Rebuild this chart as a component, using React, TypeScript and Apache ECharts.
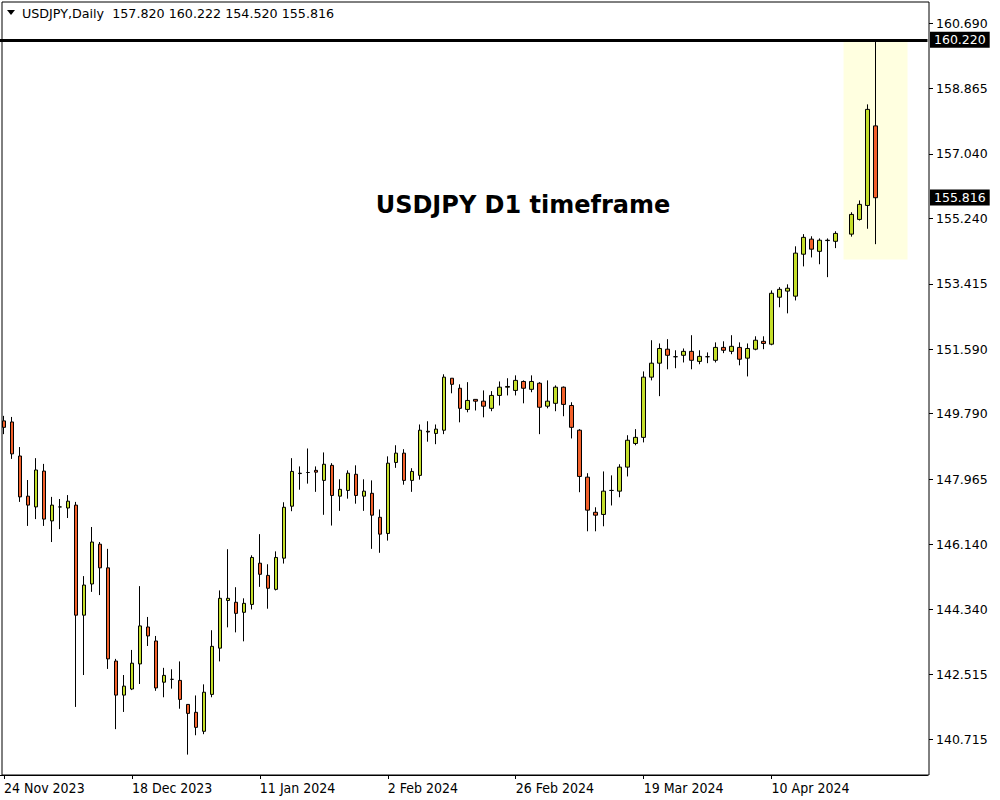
import React, { useEffect, useRef } from 'react';
import * as echarts from 'echarts';

// Trading days (categories); the last six are empty future slots on the chart
const dates = [
  '24 Nov 2023', '27 Nov 2023', '28 Nov 2023', '29 Nov 2023', '30 Nov 2023', '1 Dec 2023',
  '4 Dec 2023', '5 Dec 2023', '6 Dec 2023', '7 Dec 2023', '8 Dec 2023',
  '11 Dec 2023', '12 Dec 2023', '13 Dec 2023', '14 Dec 2023', '15 Dec 2023',
  '18 Dec 2023', '19 Dec 2023', '20 Dec 2023', '21 Dec 2023', '22 Dec 2023',
  '26 Dec 2023', '27 Dec 2023', '28 Dec 2023', '29 Dec 2023',
  '2 Jan 2024', '3 Jan 2024', '4 Jan 2024', '5 Jan 2024',
  '8 Jan 2024', '9 Jan 2024', '10 Jan 2024', '11 Jan 2024', '12 Jan 2024',
  '15 Jan 2024', '16 Jan 2024', '17 Jan 2024', '18 Jan 2024', '19 Jan 2024',
  '22 Jan 2024', '23 Jan 2024', '24 Jan 2024', '25 Jan 2024', '26 Jan 2024',
  '29 Jan 2024', '30 Jan 2024', '31 Jan 2024', '1 Feb 2024', '2 Feb 2024',
  '5 Feb 2024', '6 Feb 2024', '7 Feb 2024', '8 Feb 2024', '9 Feb 2024',
  '12 Feb 2024', '13 Feb 2024', '14 Feb 2024', '15 Feb 2024', '16 Feb 2024',
  '19 Feb 2024', '20 Feb 2024', '21 Feb 2024', '22 Feb 2024', '23 Feb 2024',
  '26 Feb 2024', '27 Feb 2024', '28 Feb 2024', '29 Feb 2024', '1 Mar 2024',
  '4 Mar 2024', '5 Mar 2024', '6 Mar 2024', '7 Mar 2024', '8 Mar 2024',
  '11 Mar 2024', '12 Mar 2024', '13 Mar 2024', '14 Mar 2024', '15 Mar 2024',
  '18 Mar 2024', '19 Mar 2024', '20 Mar 2024', '21 Mar 2024', '22 Mar 2024',
  '25 Mar 2024', '26 Mar 2024', '27 Mar 2024', '28 Mar 2024', '29 Mar 2024',
  '1 Apr 2024', '2 Apr 2024', '3 Apr 2024', '4 Apr 2024', '5 Apr 2024',
  '8 Apr 2024', '9 Apr 2024', '10 Apr 2024', '11 Apr 2024', '12 Apr 2024',
  '15 Apr 2024', '16 Apr 2024', '17 Apr 2024', '18 Apr 2024', '19 Apr 2024',
  '22 Apr 2024', '23 Apr 2024', '24 Apr 2024', '25 Apr 2024', '26 Apr 2024',
  '29 Apr 2024',
  '30 Apr 2024', '1 May 2024', '2 May 2024', '3 May 2024', '6 May 2024', '7 May 2024',
];

const DATA_COUNT = 110; // categories holding candles (null = no bar drawn)

const opens = [
  149.59, 149.56, 148.61, 147.49, 147.19, 148.19, 146.80, 147.19, 147.16, 147.24,
  144.17, 145.04, 146.15, 145.49, 142.89, 141.94, 142.11, 142.81, 143.84, 143.45,
  142.30, 142.38, 142.35, 141.68, 141.46, 140.93, 141.96, 143.25, 144.58, 144.53,
  144.25, 144.47, 145.62, 145.28, 144.89, 145.76, 147.21, 148.12, 148.15, 148.21,
  147.93, 148.35, 147.49, 147.65, 148.10, 147.49, 147.57, 146.90, 146.45, 148.43,
  148.69, 147.93, 148.07, 149.30, 149.24, 149.33, 150.78, 150.50, 149.91, 150.19,
  150.14, 149.94, 150.30, 150.53, 150.44, 150.69, 150.47, 150.64, 150.00, 150.08,
  150.53, 150.02, 149.33, 148.02, 147.04, 146.98, 147.65, 147.63, 148.30, 148.96,
  149.13, 150.81, 151.20, 151.59, 151.38, 151.42, 151.53, 151.25, 151.38, 151.28,
  151.64, 151.53, 151.64, 151.34, 151.59, 151.81, 151.73, 153.04, 153.21, 153.07,
  154.24, 154.66, 154.32, 154.62, 154.60, null, 154.80, 155.21, 155.60, 157.820,
];
const highs = [
  149.73, 149.70, 148.86, 147.94, 148.55, 148.39, 147.47, 147.41, 147.52, 147.33,
  145.26, 146.63, 146.21, 146.02, 142.95, 142.50, 143.20, 144.98, 144.12, 143.59,
  142.70, 142.66, 142.88, 141.68, 141.93, 142.24, 143.75, 144.86, 146.01, 144.95,
  144.64, 145.84, 146.43, 145.59, 145.95, 147.32, 148.55, 148.32, 148.82, 148.32,
  148.71, 148.41, 147.96, 148.21, 148.35, 147.96, 147.93, 147.12, 148.60, 148.91,
  148.80, 148.27, 149.49, 149.58, 149.49, 150.89, 150.78, 150.61, 150.67, 150.19,
  150.44, 150.42, 150.69, 150.78, 150.86, 150.72, 150.86, 150.67, 150.72, 150.58,
  150.55, 150.11, 149.36, 148.13, 147.18, 148.18, 148.07, 148.38, 149.19, 149.36,
  150.97, 151.84, 151.75, 151.87, 151.56, 151.61, 151.98, 151.56, 151.50, 151.78,
  151.81, 151.98, 151.78, 151.75, 151.95, 151.95, 153.23, 153.32, 153.40, 154.46,
  154.80, 154.74, 154.68, 154.68, 154.88, null, 155.41, 155.74, 158.42, 160.222,
];
const lows = [
  149.22, 148.53, 147.33, 146.66, 146.85, 146.66, 146.21, 146.57, 146.88, 141.61,
  142.50, 144.82, 144.73, 142.67, 140.99, 141.47, 142.08, 142.25, 143.31, 142.06,
  141.88, 142.12, 141.56, 140.28, 140.82, 140.85, 141.88, 142.88, 143.83, 143.69,
  143.44, 144.33, 144.96, 144.35, 144.86, 145.61, 147.07, 147.67, 147.84, 147.61,
  146.97, 146.67, 147.08, 147.42, 147.28, 147.08, 146.02, 145.91, 146.25, 148.28,
  147.81, 147.61, 147.95, 149.01, 148.94, 149.22, 150.36, 149.55, 149.83, 149.88,
  149.69, 149.86, 150.02, 150.30, 150.30, 150.08, 150.39, 149.22, 149.94, 149.86,
  149.72, 149.10, 147.60, 146.51, 146.51, 146.65, 147.23, 147.46, 148.04, 148.91,
  148.99, 150.72, 150.28, 151.03, 151.06, 151.22, 151.03, 151.17, 151.20, 151.22,
  151.48, 151.45, 151.14, 150.83, 151.56, 151.59, 151.70, 152.76, 152.59, 152.95,
  153.90, 154.15, 153.96, 153.60, 154.41, null, 154.73, 155.18, 154.95, 154.520,
];
const closes = [
  149.41, 148.67, 147.47, 147.24, 148.22, 146.85, 147.24, 147.19, 147.35, 144.17,
  145.01, 146.21, 145.49, 142.95, 141.94, 142.19, 142.83, 143.87, 143.59, 142.14,
  142.49, 142.38, 141.82, 141.43, 141.04, 142.02, 143.30, 144.64, 144.64, 144.22,
  144.50, 145.78, 145.31, 144.92, 145.78, 147.18, 148.18, 148.13, 148.15, 148.16,
  148.38, 147.51, 147.68, 148.13, 147.51, 147.63, 146.96, 146.43, 148.41, 148.69,
  147.93, 148.18, 149.33, 149.28, 149.36, 150.81, 150.61, 149.94, 150.16, 150.14,
  150.00, 150.30, 150.53, 150.55, 150.72, 150.50, 150.69, 149.97, 150.14, 150.53,
  150.05, 149.41, 148.04, 147.10, 146.96, 147.63, 147.65, 148.30, 149.05, 149.13,
  150.81, 151.20, 151.61, 151.42, 151.38, 151.53, 151.28, 151.39, 151.38, 151.64,
  151.56, 151.67, 151.31, 151.61, 151.84, 151.75, 153.15, 153.26, 153.29, 154.27,
  154.71, 154.38, 154.63, 154.63, 154.82, null, 155.35, 155.63, 158.28, 155.816,
];

const priceTicks = [160.69, 158.865, 157.04, 155.24, 153.415, 151.59, 149.79, 147.965, 146.14, 144.34, 142.515, 140.715];
const Y_MIN = 139.711;
const Y_MAX = 161.248;
const LEVEL_LINE = 160.22;
const LAST_PRICE = 155.816;
const AREA_TOP = 160.17;
const AREA_BOTTOM = 154.09;
const AREA_FROM = 105;
const AREA_TO = 113;

const headerText = 'USDJPY,Daily  157.820 160.222 154.520 155.816';
const titleText = 'USDJPY D1 timeframe';

const GREEN = '#C4DE2A';
const RED = '#F2602A';
const LABEL_EVERY = 16;

export default function App() {
  const ref = useRef<HTMLDivElement>(null);
  useEffect(() => {
    const chart = echarts.init(ref.current!, null, { renderer: 'svg' });
    const data = dates.map((_, i) =>
      i < DATA_COUNT && opens[i] != null ? [opens[i], closes[i], lows[i], highs[i]] : '-'
    );
    const showTick = (i: number) => i % LABEL_EVERY === 0 && i < DATA_COUNT;
    const boxLabel = (text: string) => ({
      show: true,
      position: 'end',
      distance: 2.5,
      formatter: text,
      color: '#fff',
      backgroundColor: '#000',
      padding: [2, 4, 1, 4],
      fontSize: 12.5,
      fontFamily: 'DejaVu Sans',
    });
    chart.setOption({
      animation: false,
      backgroundColor: '#fff',
      grid: { left: -0.5, top: 3, width: 928, height: 772, containLabel: false },
      xAxis: {
        type: 'category',
        data: dates,
        boundaryGap: true,
        axisLine: { show: true, lineStyle: { color: '#000', width: 1 } },
        axisTick: {
          show: true,
          alignWithLabel: true,
          interval: (i: number) => showTick(i),
          length: 4,
          lineStyle: { color: '#000' },
        },
        axisLabel: {
          interval: (i: number) => showTick(i),
          align: 'left',
          margin: 6,
          fontSize: 14,
          fontFamily: 'DejaVu Sans Condensed, DejaVu Sans',
          color: '#000',
        },
        splitLine: { show: false },
      },
      yAxis: {
        type: 'value',
        position: 'right',
        min: Y_MIN,
        max: Y_MAX,
        offset: 1.5,
        axisLine: { show: false },
        axisTick: { show: true, length: 4, customValues: priceTicks, lineStyle: { color: '#000' } },
        axisLabel: {
          customValues: priceTicks,
          formatter: (v: number) => v.toFixed(3),
          margin: 7,
          fontSize: 12.5,
          fontFamily: 'DejaVu Sans',
          color: '#000',
        },
        splitLine: { show: false },
      },
      series: [
        {
          type: 'candlestick',
          data,
          barWidth: 4,
          itemStyle: {
            color: GREEN,
            color0: RED,
            borderColor: '#000',
            borderColor0: '#000',
            borderColorDoji: '#000',
            borderWidth: 1,
          },
          markArea: {
            silent: true,
            z: 0,
            itemStyle: { color: '#FFFFE0' },
            data: [[
              { xAxis: dates[AREA_FROM], yAxis: AREA_TOP },
              { xAxis: dates[AREA_TO], yAxis: AREA_BOTTOM },
            ]],
          },
          markLine: {
            silent: true,
            symbol: 'none',
            data: [
              { yAxis: LEVEL_LINE, lineStyle: { color: '#000', width: 3, type: 'solid' }, label: boxLabel(LEVEL_LINE.toFixed(3)) },
              { yAxis: LAST_PRICE, lineStyle: { color: 'rgba(0,0,0,0)', width: 1, type: 'solid' }, label: boxLabel(LAST_PRICE.toFixed(3)) },
            ],
          },
        },
      ],
      graphic: [
        {
          type: 'rect',
          silent: true,
          z: 100,
          shape: { x: 2, y: 2, width: 927, height: 773 },
          style: { fill: 'none', stroke: '#000', lineWidth: 1 },
        },
        {
          type: 'polygon',
          silent: true,
          z: 100,
          shape: { points: [[7, 10], [15, 10], [11, 15]] },
          style: { fill: '#000' },
        },
        {
          type: 'text',
          silent: true,
          z: 100,
          x: 22,
          y: 13,
          style: { text: headerText, font: '12.7px "DejaVu Sans"', fill: '#000', verticalAlign: 'middle', align: 'left' },
        },
        {
          type: 'text',
          silent: true,
          z: 100,
          x: 523,
          y: 205,
          style: { text: titleText, font: 'bold 24px "DejaVu Sans"', fill: '#000', verticalAlign: 'middle', align: 'center' },
        },
      ],
    });
    return () => chart.dispose();
  }, []);
  return <div ref={ref} style={{ position: 'absolute', left: 0, top: 0, width: 1000, height: 800 }} />;
}
